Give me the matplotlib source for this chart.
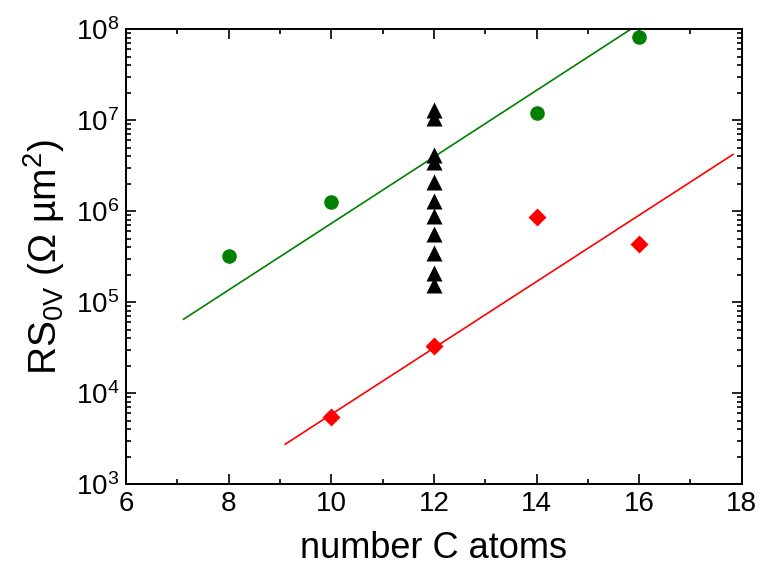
import matplotlib
matplotlib.use("Agg")
import matplotlib.pyplot as plt
from matplotlib.ticker import LogLocator, MultipleLocator, LogFormatterMathtext, NullFormatter

plt.rcParams['font.family'] = ['Liberation Sans', 'DejaVu Sans']
plt.rcParams['mathtext.fontset'] = 'custom'
plt.rcParams['mathtext.rm'] = 'Liberation Sans'
plt.rcParams['mathtext.it'] = 'Liberation Sans'
plt.rcParams['mathtext.default'] = 'regular'

# green circles
green_x = [8, 10, 14, 16]
green_y = [3.2e5, 1.25e6, 1.2e7, 8.2e7]

# red diamonds
red_x = [10, 12, 14, 16]
red_y = [5.5e3, 3.3e4, 8.7e5, 4.4e5]

# black triangles, all at 12 C atoms
tri_y = [1.29e7, 1.05e7, 4.1e6, 3.5e6, 2.1e6, 1.29e6, 8.8e5, 5.6e5, 3.5e5, 2.1e5, 1.55e5]
tri_x = [12] * len(tri_y)

# fit lines (end points)
green_fit_x = [7.12, 15.84]
green_fit_y = [6.5e4, 1.0e8]
red_fit_x = [9.10, 17.83]
red_fit_y = [2.75e3, 4.2e6]

fig = plt.figure(figsize=(7.6, 5.71), dpi=100)
ax = fig.add_axes([0.166, 0.152, 0.81, 0.797])

ax.plot(green_fit_x, green_fit_y, color='#008000', lw=1.2, zorder=2)
ax.plot(red_fit_x, red_fit_y, color='#ff0000', lw=1.2, zorder=2)

ax.plot(green_x, green_y, 'o', color='#008000', ms=10.5, mec='none', zorder=3)
ax.plot(red_x, red_y, 'D', color='#ff0000', ms=9.5, mec='none', zorder=3)
ax.plot(tri_x, tri_y, '^', color='black', ms=11, mec='none', zorder=4)

ax.set_yscale('log')
ax.set_xlim(6, 18)
ax.set_ylim(1e3, 1e8)

ax.xaxis.set_major_locator(MultipleLocator(2))
ax.xaxis.set_minor_locator(MultipleLocator(1))
ax.yaxis.set_major_locator(LogLocator(base=10, numticks=10))
ax.yaxis.set_minor_locator(LogLocator(base=10, subs=range(2, 10), numticks=10))
ax.yaxis.set_major_formatter(LogFormatterMathtext())
ax.yaxis.set_minor_formatter(NullFormatter())

ax.tick_params(which='both', direction='in', top=True, right=True, width=1.2)
ax.tick_params(which='major', length=7, labelsize=20, pad=5)
ax.tick_params(which='minor', length=3.8)
for s in ax.spines.values():
    s.set_linewidth(1.4)

ax.set_xlabel('number C atoms', fontsize=26, labelpad=10)
ax.set_ylabel(r'RS$_{0V}$ ($\Omega$ µm$^2$)', fontsize=28, labelpad=6)

fig.savefig('out.png', dpi=100)
